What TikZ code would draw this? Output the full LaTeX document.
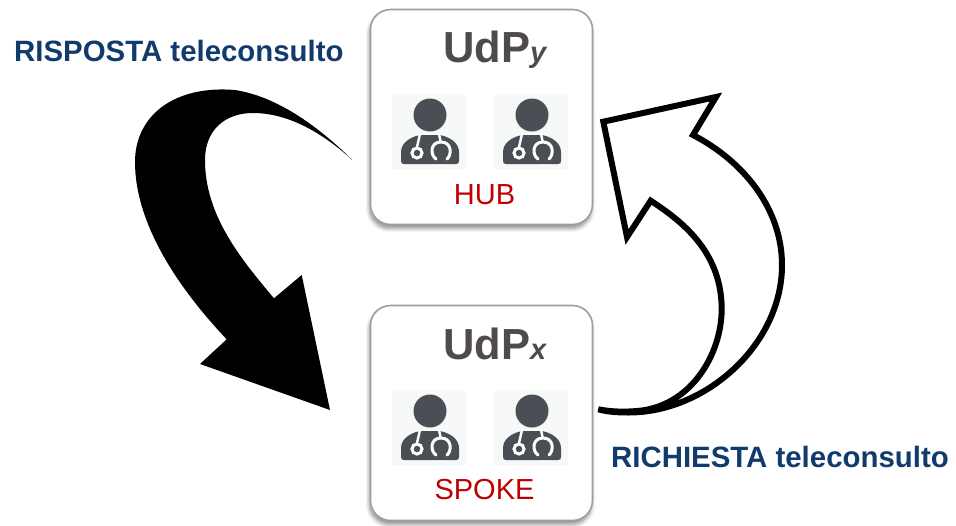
\documentclass[tikz,border=0pt]{standalone}
\usepackage{fontspec}
\setmainfont{Liberation Sans}
\usetikzlibrary{shadows.blur}
\definecolor{udpgray}{HTML}{4F4B4B}
\definecolor{hubred}{HTML}{C00000}
\definecolor{teleblue}{HTML}{123B6D}
\definecolor{docgray}{HTML}{4A4F55}
\definecolor{docback}{HTML}{F7F9F9}
\tikzset{
  udpbox/.style={draw=black!38, line width=1.6pt, rounded corners=20pt, fill=white,
    minimum width=222pt, minimum height=215pt, inner sep=0pt,
    blur shadow={shadow xshift=-1pt, shadow yshift=-4pt, shadow blur radius=4pt,
      shadow blur steps=8, shadow opacity=45}},
  udplabel/.style={text=udpgray, font=\bfseries\fontsize{43.5}{44}\selectfont, inner sep=0pt},
  rolelabel/.style={text=hubred, font=\fontsize{29}{29}\selectfont, inner sep=0pt},
  telelabel/.style={text=teleblue, font=\bfseries\fontsize{29.4}{30}\selectfont, inner sep=0pt},
  doctor/.pic={
    \fill[docback] (-38,-21) rectangle (36,54);
    \fill[docgray] (0,0) circle (16.5);
    \fill[docgray] (-29,46) -- (-29,37) .. controls (-29,28) and (-20,22) .. (-10,20)
      -- (10,20) .. controls (20,22) and (29,28) .. (29,37) -- (29,46)
      .. controls (29,48) and (28,49) .. (26,49) -- (-26,49) .. controls (-28,49) and (-29,48) .. (-29,46) -- cycle;
    \draw[white, line width=2.4pt] (-10,19) -- (-13,32);
    \draw[white, line width=3pt, fill=docgray] (-13,38) circle (5);
    \draw[white, line width=2.4pt] (9,19) -- (11,28);
    \draw[white, line width=3pt, line cap=round] (6,44) .. controls (0,40) and (0,27) .. (11,27)
      .. controls (22,27) and (22,40) .. (17,44);
  }
}
\begin{document}
\begin{tikzpicture}[x=1pt,y=-1pt]
  \useasboundingbox (0,0) rectangle (956,525);
  \node[udpbox] (hub) at (481.5,117) {};
  \node[udpbox] (spoke) at (481.5,413) {};
  \node[udplabel, anchor=base west] (hubname) at (443,62) {UdP\textit{\fontsize{29}{29}\selectfont y}};
  \node[udplabel, anchor=base west] (spokename) at (443,359) {UdP\textit{\fontsize{29}{29}\selectfont x}};
  \pic at (430,115) {doctor};
  \pic at (532,115) {doctor};
  \pic at (430,411) {doctor};
  \pic at (532,411) {doctor};
  \node[rolelabel, anchor=base] (hubrole) at (484.5,204) {HUB};
  \node[rolelabel, anchor=base] (spokerole) at (484.5,499) {SPOKE};
  \node[telelabel, anchor=base west] (risposta) at (14,61) {RISPOSTA teleconsulto};
  \node[telelabel, anchor=base west] (richiesta) at (611,467) {RICHIESTA teleconsulto};
  % black arrow
  \fill[black] (352.3,160) .. controls (322,130) and (280,97) .. (235,90)
    .. controls (175,85) and (135,115) .. (135,162)
    .. controls (135,225) and (180,290) .. (226.7,339.3)
    -- (200,364) -- (330,410) -- (301.7,275) -- (274,298.3)
    .. controls (240,258) and (205,215) .. (205,160)
    .. controls (205,130) and (225,113) .. (253,113)
    .. controls (290,113) and (325,135) .. (352.3,160) -- cycle;
  % white arrow
  \draw[black, line width=6pt, fill=white, miter limit=20] (598.3,409.3)
    .. controls (612,412) and (625,412) .. (637,411)
    .. controls (690,407) and (722,355) .. (721.7,308)
    .. controls (721,250) and (680,220) .. (650.7,200.7)
    -- (627,237) -- (603.3,121.7) -- (716,97) -- (693,135)
    .. controls (745,162) and (782,210) .. (782,265)
    .. controls (782,345) and (705,413) .. (628,412.5)
    .. controls (616,412.5) and (606,411.5) .. (598.3,409.3) -- cycle;
\end{tikzpicture}
\end{document}
